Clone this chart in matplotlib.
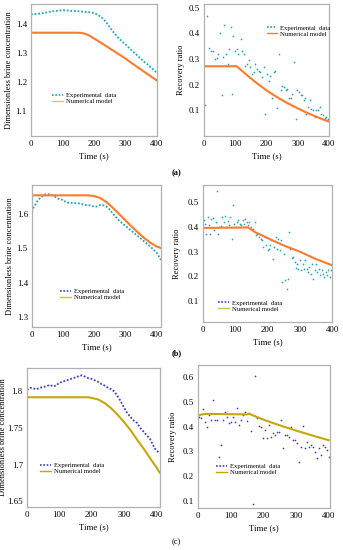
import numpy as np
import matplotlib
matplotlib.use("Agg")
import matplotlib.pyplot as plt
from matplotlib.lines import Line2D

plt.rcParams['font.family'] = ['Liberation Serif', 'DejaVu Serif']

# ---- panel (a) ----
a_exp_t = [0, 10, 20, 30, 40, 50, 60, 70, 80, 90, 100, 110, 120, 130, 140, 150, 160, 170, 180, 190,
           200, 210, 220, 230, 240, 250, 260, 270, 280, 290, 300, 310, 320, 330, 340, 350, 360, 370, 380, 390, 400]
a_exp_c = [1.434, 1.435, 1.436, 1.437, 1.439, 1.441, 1.443, 1.445, 1.446, 1.447, 1.449, 1.448, 1.447, 1.446,
           1.446, 1.445, 1.444, 1.443, 1.442, 1.441, 1.439, 1.434, 1.427, 1.418, 1.405, 1.39, 1.375, 1.362,
           1.35, 1.34, 1.331, 1.32, 1.31, 1.30, 1.29, 1.28, 1.27, 1.262, 1.252, 1.242, 1.232]
a_num_t = [0, 150, 160, 170, 180, 190, 200, 220, 240, 260, 280, 300, 320, 340, 360, 380, 400]
a_num_c = [1.371, 1.371, 1.370, 1.368, 1.364, 1.358, 1.351, 1.338, 1.324, 1.31, 1.296, 1.282, 1.266,
           1.251, 1.236, 1.221, 1.206]

a_rr_t = [3, 11, 16, 22, 29, 35, 41, 46, 51, 57, 62, 65, 70, 76, 80, 85, 89, 94, 100, 105, 110, 119, 123,
          127, 132, 137, 143, 148, 153, 159, 164, 169, 175, 180, 186, 191, 196, 202, 207, 212, 218, 223,
          228, 234, 239, 245, 250, 255, 261, 266, 271, 277, 282, 288, 293, 298, 303, 309, 314, 320, 323,
          327, 332, 338, 343, 349, 354, 359, 365, 370, 375, 381, 386, 391, 397]
a_rr_v = [0.12, 0.468, 0.345, 0.33, 0.33, 0.30, 0.305, 0.32, 0.40, 0.16, 0.31, 0.435, 0.32, 0.28, 0.34,
          0.425, 0.165, 0.39, 0.33, 0.34, 0.32, 0.38, 0.33, 0.32, 0.275, 0.28, 0.295, 0.27, 0.24, 0.25,
          0.28, 0.26, 0.255, 0.25, 0.23, 0.27, 0.085, 0.24, 0.215, 0.235, 0.15, 0.25, 0.255, 0.11, 0.32,
          0.18, 0.195, 0.19, 0.18, 0.185, 0.15, 0.15, 0.165, 0.29, 0.065, 0.18, 0.17, 0.16, 0.16, 0.14,
          0.15, 0.085, 0.115, 0.14, 0.105, 0.10, 0.075, 0.10, 0.10, 0.115, 0.085, 0.08, 0.07, 0.075, 0.065]
a_rn_t = [0, 105, 110, 120, 140, 160, 180, 200, 220, 240, 260, 280, 300, 320, 340, 360, 380, 400]
a_rn_v = [0.272, 0.272, 0.266, 0.256, 0.235, 0.215, 0.196, 0.178, 0.162, 0.147, 0.133, 0.12, 0.108,
          0.096, 0.085, 0.075, 0.065, 0.056]

# ---- panel (b) ----
b_exp_t = [0, 5, 10, 20, 30, 40, 50, 60, 70, 80, 90, 100, 110, 130, 150, 170, 185, 200, 210, 220, 230,
           240, 250, 260, 270, 280, 290, 300, 320, 340, 360, 380, 400, 415]
b_exp_c = [1.605, 1.618, 1.625, 1.64, 1.648, 1.655, 1.657, 1.655, 1.652, 1.645, 1.641, 1.64, 1.632,
           1.631, 1.63, 1.625, 1.624, 1.62, 1.621, 1.625, 1.624, 1.62, 1.612, 1.6, 1.59, 1.58, 1.572,
           1.565, 1.55, 1.535, 1.52, 1.505, 1.488, 1.466]
b_num_t = [0, 180, 200, 220, 240, 260, 280, 300, 320, 340, 360, 380, 400, 415]
b_num_c = [1.653, 1.653, 1.651, 1.645, 1.633, 1.617, 1.599, 1.581, 1.563, 1.546, 1.53, 1.516, 1.505, 1.50]

b_rr_t = [2, 5, 8, 14, 18, 22, 26, 30, 34, 39, 43, 47, 51, 55, 60, 64, 68, 72, 76, 81, 85, 89, 93, 97,
          102, 106, 110, 114, 118, 123, 127, 131, 135, 139, 143, 148, 152, 156, 160, 164, 168, 175, 179,
          183, 187, 191, 196, 200, 204, 208, 212, 217, 221, 225, 229, 233, 238, 242, 246, 250, 254, 259,
          263, 267, 271, 275, 280, 284, 288, 292, 296, 301, 305, 309, 313, 317, 321, 326, 330, 334, 338,
          342, 347, 351, 355, 359, 363, 368, 372, 376, 380, 384, 388, 393, 397]
b_rr_v = [0.427, 0.413, 0.373, 0.44, 0.407, 0.373, 0.434, 0.438, 0.386, 0.42, 0.546, 0.373, 0.40, 0.403,
          0.44, 0.42, 0.443, 0.40, 0.424, 0.407, 0.44, 0.353, 0.488, 0.414, 0.40, 0.42, 0.427, 0.414,
          0.407, 0.427, 0.414, 0.434, 0.42, 0.407, 0.42, 0.40, 0.386, 0.393, 0.42, 0.366, 0.373, 0.36,
          0.353, 0.346, 0.319, 0.36, 0.326, 0.305, 0.312, 0.326, 0.346, 0.272, 0.319, 0.36, 0.312, 0.353,
          0.305, 0.346, 0.177, 0.292, 0.184, 0.15, 0.19, 0.38, 0.312, 0.276, 0.278, 0.258, 0.235, 0.251,
          0.231, 0.265, 0.224, 0.251, 0.231, 0.265, 0.231, 0.218, 0.238, 0.211, 0.251, 0.19, 0.224, 0.251,
          0.218, 0.231, 0.204, 0.224, 0.211, 0.197, 0.218, 0.204, 0.224, 0.197, 0.224]
b_rn_t = [0, 140, 160, 200, 250, 300, 350, 400]
b_rn_v = [0.396, 0.398, 0.38, 0.355, 0.325, 0.30, 0.27, 0.245]

# ---- panel (c) ----
c_exp_t = [0, 10, 20, 30, 40, 50, 60, 70, 80, 90, 100, 110, 120, 130, 140, 150, 160, 170, 180, 190, 200,
           210, 220, 230, 240, 250, 260, 270, 285, 300, 310, 320, 330, 340, 350, 360, 370, 380, 395, 410]
c_exp_c = [1.802, 1.805, 1.804, 1.803, 1.805, 1.806, 1.807, 1.809, 1.807, 1.808, 1.812, 1.813, 1.815,
           1.816, 1.818, 1.819, 1.821, 1.822, 1.82, 1.818, 1.817, 1.815, 1.813, 1.81, 1.808, 1.805, 1.803,
           1.8, 1.79, 1.778, 1.77, 1.765, 1.76, 1.757, 1.75, 1.745, 1.74, 1.735, 1.722, 1.715]
c_num_t = [0, 190, 200, 220, 240, 260, 280, 300, 320, 340, 360, 380, 400, 410]
c_num_c = [1.792, 1.792, 1.791, 1.789, 1.784, 1.777, 1.768, 1.758, 1.747, 1.734, 1.722, 1.709, 1.696, 1.689]

c_rr_t = [2, 10, 15, 20, 27, 33, 39, 45, 51, 57, 64, 70, 76, 82, 88, 94, 100, 107, 113, 119, 125, 131,
          137, 144, 150, 156, 162, 168, 174, 180, 187, 193, 199, 205, 211, 217, 224, 230, 236, 242, 248,
          254, 260, 267, 273, 279, 285, 291, 297, 304, 310, 316, 322, 328, 334, 340, 347, 353, 359, 365,
          371, 377, 384, 390, 396, 400]
c_rr_v = [0.438, 0.434, 0.472, 0.42, 0.40, 0.445, 0.427, 0.508, 0.427, 0.427, 0.278, 0.326, 0.427, 0.46,
          0.44, 0.414, 0.42, 0.44, 0.42, 0.474, 0.407, 0.427, 0.447, 0.457, 0.423, 0.454, 0.384, 0.089,
          0.605, 0.434, 0.404, 0.40, 0.353, 0.386, 0.353, 0.407, 0.359, 0.373, 0.366, 0.38, 0.38, 0.427,
          0.312, 0.366, 0.366, 0.359, 0.40, 0.346, 0.346, 0.335, 0.258, 0.319, 0.403, 0.312, 0.339, 0.319,
          0.326, 0.319, 0.299, 0.272, 0.312, 0.285, 0.326, 0.319, 0.305, 0.278]
c_rn_t = [0, 10, 20, 150, 155, 200, 250, 300, 350, 400]
c_rn_v = [0.444, 0.448, 0.451, 0.449, 0.452, 0.428, 0.405, 0.384, 0.364, 0.345]

# colours
TEAL = '#1fa3bf'
ORANGE = '#ff7b2c'
BLUE = '#3b3fbf'
GOLD = '#c4a80a'
LIME = '#c9c23a'

W, H = 343, 550
fig = plt.figure(figsize=(W / 100, H / 100), dpi=100)


def make_axes(x0, y0, x1, y1, ylabel, label_x):
    ax = fig.add_axes([x0 / W, 1 - y1 / H, (x1 - x0) / W, (y1 - y0) / H])
    for s in ax.spines.values():
        s.set_color('#b0b0b0')
        s.set_linewidth(0.9)
    ax.tick_params(length=0, labelsize=6.3, pad=3)
    ax.set_xlabel('Time (s)', fontsize=6.3, labelpad=3)
    ax.set_ylabel(ylabel, fontsize=6.0)
    # label position given in pixels -> axes fraction
    ax.yaxis.set_label_coords((label_x - x0) / (x1 - x0), 0.5)
    return ax


def add_legend(ax, exp_handle, num_handle, x, y):
    ax.legend([exp_handle, num_handle], ['Experimental  data', 'Numerical model'],
              loc='upper left', bbox_to_anchor=(x, y), frameon=False, fontsize=4.8,
              handlelength=1.6, handletextpad=0.4, labelspacing=0.05, borderpad=0, borderaxespad=0)


def exp_h(color):
    return Line2D([], [], color=color, linestyle=(0, (1, 1)), linewidth=1.2)


def num_h(color):
    return Line2D([], [], color=color, linewidth=1.0)


CONC = 'Dimensionless brine concentration'
RR = 'Recovery ratio'
XT = [0, 100, 200, 300, 400]

# (a) left
ax = make_axes(31, 4, 157, 136, CONC, 13)
ax.plot(a_exp_t, a_exp_c, color=TEAL, linestyle=(0, (1, 1)), linewidth=1.3)
ax.plot(a_num_t, a_num_c, color=ORANGE, linewidth=1.5)
ax.set_xlim(0, 400)
ax.set_ylim(1.015, 1.47)
ax.set_yticks([1.1, 1.2, 1.3, 1.4])
ax.set_xticks(XT)
add_legend(ax, exp_h(TEAL), num_h('#ffb07a'), 0.17, 0.33)

# (a) right
ax = make_axes(204, 4, 329, 136, RR, 185)
ax.scatter(a_rr_t, a_rr_v, s=1.5, color=TEAL, linewidths=0)
ax.plot(a_rn_t, a_rn_v, color=ORANGE, linewidth=1.5)
ax.set_xlim(0, 400)
ax.set_ylim(0.0, 0.515)
ax.set_yticks([0.1, 0.2, 0.3, 0.4, 0.5])
ax.set_xticks(XT)
add_legend(ax, exp_h(TEAL), num_h(ORANGE), 0.5, 0.84)

# (b) left
ax = make_axes(32, 185, 161, 327, CONC, 14)
ax.plot(b_exp_t, b_exp_c, color=TEAL, linestyle=(0, (1, 1)), linewidth=1.3)
ax.plot(b_num_t, b_num_c, color=ORANGE, linewidth=1.5)
ax.set_xlim(0, 415)
ax.set_ylim(1.271, 1.683)
ax.set_yticks([1.3, 1.4, 1.5, 1.6])
ax.set_xticks(XT)
add_legend(ax, exp_h(BLUE), num_h(LIME), 0.22, 0.27)

# (b) right
ax = make_axes(203, 185, 332, 322, RR, 181)
ax.scatter(b_rr_t, b_rr_v, s=1.5, color=TEAL, linewidths=0)
ax.plot(b_rn_t, b_rn_v, color=ORANGE, linewidth=1.5)
ax.set_xlim(0, 400)
ax.set_ylim(0.015, 0.57)
ax.set_yticks([0.1, 0.2, 0.3, 0.4, 0.5])
ax.set_xticks(XT)
add_legend(ax, exp_h(BLUE), num_h(LIME), 0.12, 0.16)

# (c) left
ax = make_axes(27, 368, 160, 507, CONC, 7)
ax.plot(c_exp_t, c_exp_c, color=BLUE, linestyle=(0, (1, 1)), linewidth=1.3)
ax.plot(c_num_t, c_num_c, color=GOLD, linewidth=1.5)
ax.set_xlim(0, 411)
ax.set_ylim(1.642, 1.832)
ax.set_yticks([1.65, 1.7, 1.75, 1.8])
ax.set_yticklabels(['1.65', '1.7', '1.75', '1.8'])
ax.set_xticks(XT)
add_legend(ax, exp_h(BLUE), num_h(GOLD), 0.10, 0.32)

# (c) right
ax = make_axes(198, 365, 330, 508, RR, 177)
ax.scatter(c_rr_t, c_rr_v, s=1.5, color=BLUE, linewidths=0)
ax.plot(c_rn_t, c_rn_v, color=GOLD, linewidth=1.5)
ax.set_xlim(0, 404)
ax.set_ylim(0.072, 0.648)
ax.set_yticks([0.1, 0.2, 0.3, 0.4, 0.5, 0.6])
ax.set_xticks(XT)
add_legend(ax, exp_h(BLUE), num_h(GOLD), 0.14, 0.31)

# panel labels
fig.text(172 / W, 1 - 173 / H, '(a)', fontsize=6, fontweight='bold', va='center', ha='left')
fig.text(172 / W, 1 - 353 / H, '(b)', fontsize=6, fontweight='bold', va='center', ha='left')
fig.text(172 / W, 1 - 542 / H, '(c)', fontsize=6, va='center', ha='left')

fig.savefig('out.png', dpi=100)
